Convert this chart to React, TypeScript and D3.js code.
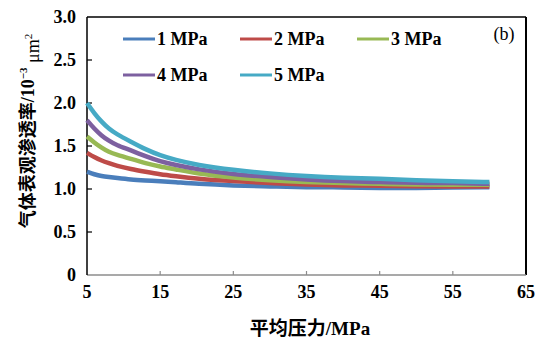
import React from 'react';
import * as d3 from 'd3';

// mean pressure (MPa)
const pressure = [5, 6, 7, 8, 9, 11, 13, 15, 17, 20, 25, 30, 35, 40, 45, 50, 55, 60];

// apparent gas permeability (10^-3 um^2) for each pressure difference
const k1 = [1.20, 1.17, 1.15, 1.14, 1.13, 1.11, 1.10, 1.09, 1.08, 1.06, 1.04, 1.03, 1.02, 1.02, 1.01, 1.01, 1.02, 1.02];
const k2 = [1.42, 1.37, 1.33, 1.30, 1.27, 1.23, 1.20, 1.17, 1.15, 1.12, 1.09, 1.07, 1.05, 1.04, 1.04, 1.03, 1.03, 1.03];
const k3 = [1.61, 1.54, 1.48, 1.43, 1.40, 1.35, 1.30, 1.26, 1.23, 1.18, 1.13, 1.10, 1.08, 1.07, 1.06, 1.05, 1.05, 1.05];
const k4 = [1.80, 1.70, 1.62, 1.56, 1.51, 1.45, 1.38, 1.32, 1.28, 1.23, 1.17, 1.14, 1.11, 1.09, 1.08, 1.07, 1.07, 1.06];
const k5 = [2.00, 1.88, 1.78, 1.70, 1.64, 1.55, 1.46, 1.39, 1.34, 1.28, 1.22, 1.18, 1.15, 1.13, 1.12, 1.10, 1.09, 1.08];

const seriesNames = ['1 MPa', '2 MPa', '3 MPa', '4 MPa', '5 MPa'];
const seriesValues = [k1, k2, k3, k4, k5];
const colors = ['#4a7ebb', '#be4b48', '#98b954', '#7d60a0', '#46aac5'];

const xTicks = [5, 15, 25, 35, 45, 55, 65];
const yTicks = [0, 0.5, 1.0, 1.5, 2.0, 2.5, 3.0];

const W = 536;
const H = 338;
const left = 87, right = 526, top = 17, bottom = 275;
const font = '"Liberation Serif", "Times New Roman", "Noto Sans CJK SC", serif';

export default function App() {
  const x = d3.scaleLinear().domain([5, 65]).range([left, right]);
  const y = d3.scaleLinear().domain([0, 3]).range([bottom, top]);

  const line = d3.line<number>()
    .x((d, i) => x(pressure[i]))
    .y(d => y(d))
    .curve(d3.curveBasis);

  // legend positions: 3 per row
  const legend = seriesNames.map((name, i) => ({
    name,
    color: colors[i],
    lx: 123 + (i % 3) * 117,
    ly: 39 + Math.floor(i / 3) * 36,
  }));

  return (
    <svg width={W} height={H} style={{ position: 'absolute', left: 0, top: 0, background: '#fff' }}
      fontFamily={font}>
      {/* frame */}
      <line x1={left} x2={right} y1={top} y2={top} stroke="#000" strokeWidth={1.5} />
      <line x1={right} x2={right} y1={top} y2={bottom} stroke="#000" strokeWidth={2} />
      <line x1={left} x2={right} y1={bottom} y2={bottom} stroke="#8c8c8c" strokeWidth={1.5} />
      <line x1={left} x2={left} y1={top} y2={bottom} stroke="#000" strokeWidth={1.5} />

      {/* y ticks */}
      {yTicks.map(t => (
        <g key={'y' + t}>
          {t > 0 && t < 3 && (
            <line x1={left} x2={left + 5} y1={y(t)} y2={y(t)} stroke="#000" strokeWidth={1.2} />
          )}
          <text x={left - 11} y={y(t)} dy="0.35em" textAnchor="end" fontSize={18} fontWeight="bold">
            {t === 0 ? '0' : t.toFixed(1)}
          </text>
        </g>
      ))}

      {/* x ticks */}
      {xTicks.map(t => (
        <g key={'x' + t}>
          {t > 5 && t < 65 && (
            <line x1={x(t)} x2={x(t)} y1={bottom} y2={bottom - 4} stroke="#8c8c8c" strokeWidth={1.2} />
          )}
          <text x={x(t)} y={298} textAnchor="middle" fontSize={18} fontWeight="bold">{t}</text>
        </g>
      ))}

      {/* series */}
      {seriesValues.map((vals, i) => (
        <path key={i} d={line(vals) || ''} fill="none" stroke={colors[i]} strokeWidth={4.5} />
      ))}

      {/* legend */}
      {legend.map(l => (
        <g key={l.name}>
          <line x1={l.lx} x2={l.lx + 32} y1={l.ly} y2={l.ly} stroke={l.color} strokeWidth={3} />
          <text x={l.lx + 34} y={l.ly} dy="0.35em" fontSize={18} fontWeight="bold">{l.name}</text>
        </g>
      ))}
      <text x={504} y={34} dy="0.35em" textAnchor="middle" fontSize={18}>(b)</text>

      {/* axis titles */}
      <text x={310} y={328} dy="0.35em" textAnchor="middle" fontSize={19} fontWeight="bold">平均压力/MPa</text>
      <text transform="translate(28,131) rotate(-90)" textAnchor="middle" dy="0.35em" fontSize={18} fontWeight="bold">
        气体表观渗透率/10<tspan fontSize={11} dy="-0.7em">−3</tspan>
        <tspan dy="0.7em" fontWeight="normal"> μm</tspan>
        <tspan fontSize={11} dy="-0.7em" fontWeight="normal">2</tspan>
      </text>
    </svg>
  );
}
